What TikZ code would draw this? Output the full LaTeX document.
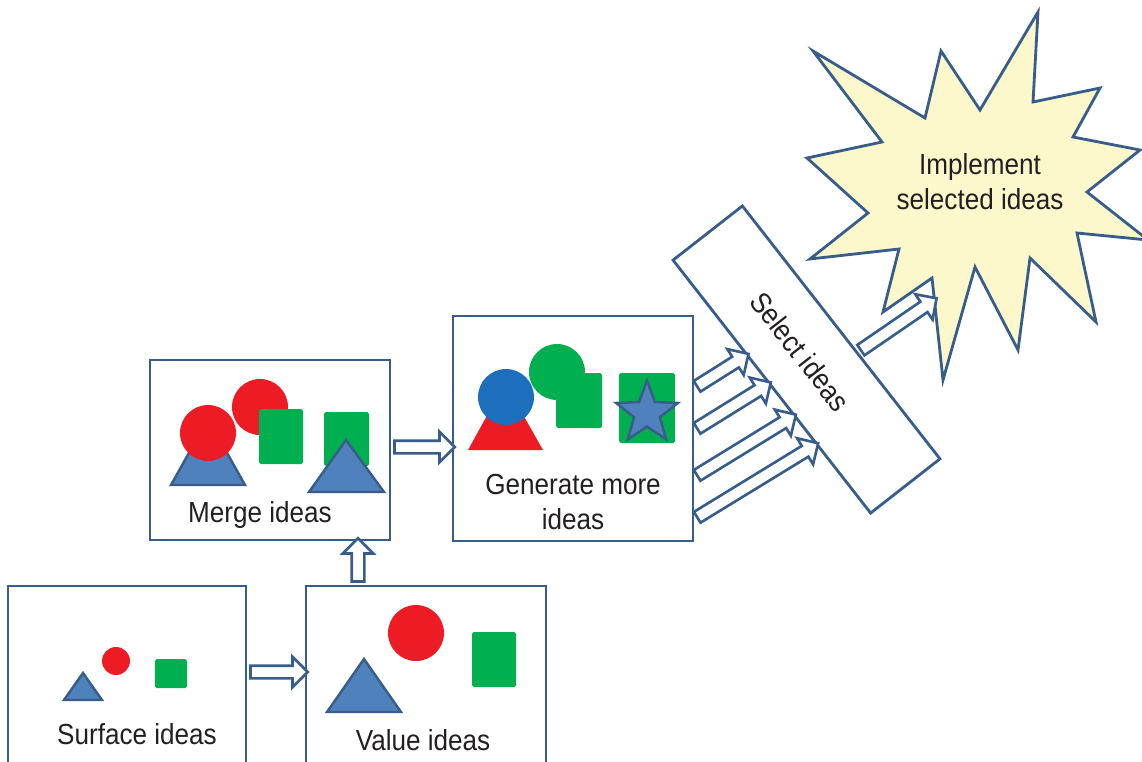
\documentclass[tikz,border=0pt]{standalone}
\usepackage{fontspec}
\setmainfont{Liberation Sans}[FakeStretch=0.9]
\usetikzlibrary{calc, shapes.geometric, shapes.arrows}

\definecolor{edgeblue}{HTML}{385D8A}
\definecolor{trifill}{HTML}{4F81BD}
\definecolor{ideared}{HTML}{ED1C24}
\definecolor{ideagreen}{HTML}{00B050}
\definecolor{ideablue}{HTML}{1E6EBE}
\definecolor{burstfill}{HTML}{FCF8CC}
\definecolor{inktext}{HTML}{231F20}

\begin{document}
\begin{tikzpicture}[
  x=0.02cm, y=-0.02cm,
  ideabox/.style={draw=edgeblue, fill=white, line width=1.6pt, rectangle, inner sep=0pt},
  idealabel/.style={text=inktext, align=center, font=\fontsize{16.5}{20}\selectfont},
  tri/.style={fill=trifill, draw=edgeblue, line width=1.4pt},
  blob/.style={fill=ideagreen, rounded corners=1pt},
  hollowtip/.style={single arrow, draw=edgeblue, fill=white, line width=1.5pt, inner sep=0.1cm, single arrow head extend=0.18cm, allow upside down, sloped},
  hollow/.style={to path={let \p1=(\tikztostart), \p2=(\tikztotarget), \n1={veclen(\x2-\x1,\y2-\y1)} in
    (\tikztostart) -- (\tikztotarget) node[midway, hollowtip, minimum height=\n1] {}}}
]
  \useasboundingbox (0,0) rectangle (1142,761);
  \clip (0,0) rectangle (1142,761);

  % Boxes
  \node[ideabox, minimum width=4.76cm, minimum height=4.28cm] (surface) at (127,693) {};
  \node[ideabox, minimum width=4.8cm, minimum height=4.28cm] (value) at (426,693) {};
  \node[ideabox, minimum width=4.8cm, minimum height=3.6cm] (merge) at (270,450) {};
  \node[ideabox, minimum width=4.8cm, minimum height=4.5cm] (gen) at (573,428.5) {};

  % Surface ideas
  \draw[tri] (83,673) -- (102,700) -- (64,700) -- cycle;
  \fill[ideared] (116,661) circle (14);
  \fill[blob] (155,659) rectangle (187,688);
  \node[idealabel] (surfacetxt) at (137,734) {Surface ideas};

  % Value ideas
  \draw[tri] (364,659) -- (401,712) -- (327,712) -- cycle;
  \fill[ideared] (416,633) circle (28);
  \fill[blob] (472,632) rectangle (516,687);
  \node[idealabel] (valuetxt) at (423,740) {Value ideas};

  % Merge ideas
  \fill[ideared] (260,407) circle (28);
  \fill[blob] (259,409) rectangle (303,464);
  \draw[tri] (208,419) -- (245,485) -- (171,485) -- cycle;
  \fill[ideared] (208,433) circle (28);
  \fill[blob] (324,412) rectangle (369,466);
  \draw[tri] (346,440) -- (384,492) -- (309,492) -- cycle;
  \node[idealabel] (mergetxt) at (260,515) {Merge ideas};

  % Generate more ideas
  \fill[ideared] (505,383) -- (543,450) -- (468,450) -- cycle;
  \fill[ideablue] (506,397) circle (28);
  \fill[ideagreen] (557,372) circle (28);
  \fill[blob] (556,373) rectangle (602,428);
  \fill[blob] (619,373) rectangle (675,443);
  \node[star, star points=5, star point ratio=2.4, minimum size=1.3cm, inner sep=0pt,
        fill=trifill, draw=edgeblue, line width=1.4pt] (genstar) at (647,413) {};
  \node[idealabel] (gentxt) at (573,502) {Generate more\\ideas};

  % Select ideas
  \node[ideabox, idealabel, minimum width=6.42cm, minimum height=1.76cm, rotate=-52] (sel) at (806.5,359.5) {Select ideas\hspace{0.4cm}};

  % Implement
  \draw[fill=burstfill, draw=edgeblue, line width=1.6pt]
    (1077,233) -- (1096,322) -- (1030,258) -- (1018,350) -- (975,267) -- (943,380)
    -- (932,278) -- (883,312) -- (899,249) -- (810,259) -- (868,213) -- (807,158)
    -- (882,142) -- (813,51) -- (925,118) -- (941,51) -- (980,110) -- (1038,12)
    -- (1033,102) -- (1100,88) -- (1073,137) -- (1140,150) -- (1087,192) -- (1148,240) -- cycle;
  \coordinate (burstin) at (934,300);
  \node[idealabel] (impltxt) at (980,182) {Implement\\selected ideas};

  % Arrows
  \path (surface.east |- 0,672) to[hollow] (value.west |- 0,672);
  \path (value.north -| 358,0) to[hollow] (merge.south -| 358,0);
  \path (merge.east |- 0,447) to[hollow] (gen.west |- 0,447);
  \path (gen.east |- 0,388) to[hollow] ($(sel.south west)!0.375!(sel.south east)$);
  \path (gen.east |- 0,430) to[hollow] ($(sel.south west)!0.487!(sel.south east)$);
  \path (gen.east |- 0,477) to[hollow] ($(sel.south west)!0.613!(sel.south east)$);
  \path (gen.east |- 0,519) to[hollow] ($(sel.south west)!0.725!(sel.south east)$);
  \path ($(sel.north west)!0.58!(sel.north east)$) to[hollow] (burstin);

\end{tikzpicture}
\end{document}
